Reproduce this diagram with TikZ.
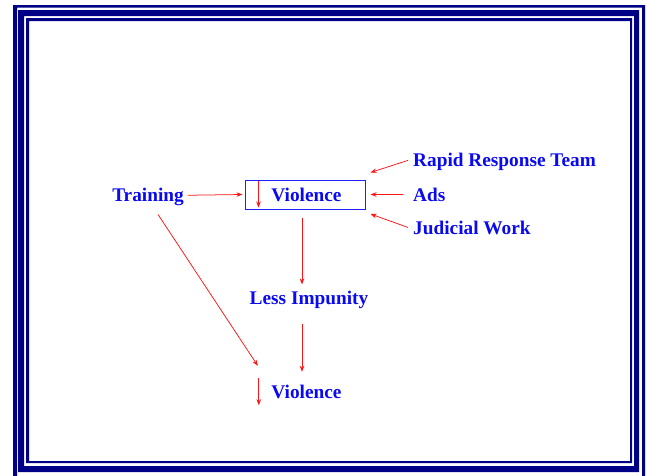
\documentclass[tikz,border=0pt]{standalone}
\usepackage{fontspec}
\setmainfont{Liberation Serif}
\usetikzlibrary{arrows.meta}
\definecolor{framenavy}{RGB}{0,0,135}
\definecolor{txtblue}{RGB}{10,10,240}
\definecolor{boxblue}{RGB}{30,30,255}
\definecolor{arrred}{RGB}{255,20,20}
\begin{document}
\begin{tikzpicture}[x=1pt,y=-1pt,
  lbl/.style={inner sep=0pt,anchor=base,text=txtblue,font=\fontsize{19.3}{23}\selectfont\bfseries},
  vbox/.style={inner sep=0pt,minimum width=120pt,minimum height=29pt,text=txtblue,font=\fontsize{19.3}{23}\selectfont\bfseries},
  arr/.style={draw=arrred,line width=0.75pt,-{Stealth[length=6pt,width=4.5pt]}},
  band/.style={fill=framenavy,even odd rule}]
\useasboundingbox (0,0) rectangle (650,475);
\fill[white] (0,0) rectangle (650,475);
% frame bands
\path[band] (13,5) rectangle (645,480) (17,7.5) rectangle (642,480);
\path[band] (18,10) rectangle (639,472) (24,16) rectangle (634,466);
\path[band] (26,18) rectangle (632,463) (29,21) rectangle (630,461);
% nodes
\node[vbox,draw=boxblue,line width=1pt] (box) at (305,194.5) {\hspace{3pt}Violence};
\node[vbox] (vbot) at (305,391.5) {\hspace{3pt}Violence};
\node[lbl] (train) at (148,201) {Training};
\node[lbl,anchor=base west] (rrt) at (413,166) {Rapid Response Team};
\node[lbl,anchor=base west] (ads) at (413,201) {Ads};
\node[lbl,anchor=base west] (jw) at (413,234) {Judicial Work};
\node[lbl] (less) at (309,304) {Less Impunity};
% connectors
\draw[arr] ([shift={(4,-1.2)}]train.east) -- ([xshift=-2pt]box.west);
\draw[arr] ([xshift=-10pt]ads.west) -- ([xshift=5pt]box.east);
\draw[arr] ([shift={(-5,-1)}]rrt.west) -- ([shift={(5,-7)}]box.north east);
\draw[arr] ([shift={(-5,0)}]jw.west) -- ([shift={(5,4.5)}]box.south east);
\draw[arr] ([shift={(14,1)}]box.north west) -- ([shift={(14,-2)}]box.south west);
\draw[arr] ([shift={(-3,8.5)}]box.south) -- ([shift={(-7,-6)}]less.north);
\draw[arr] ([shift={(-7,16)}]less.south) -- ([shift={(-3,-5)}]vbot.north);
\draw[arr] ([shift={(10,9)}]train.south) -- ([shift={(13,-11)}]vbot.north west);
\draw[arr] ([shift={(14,1)}]vbot.north west) -- ([shift={(14,-1)}]vbot.south west);
\end{tikzpicture}
\end{document}
